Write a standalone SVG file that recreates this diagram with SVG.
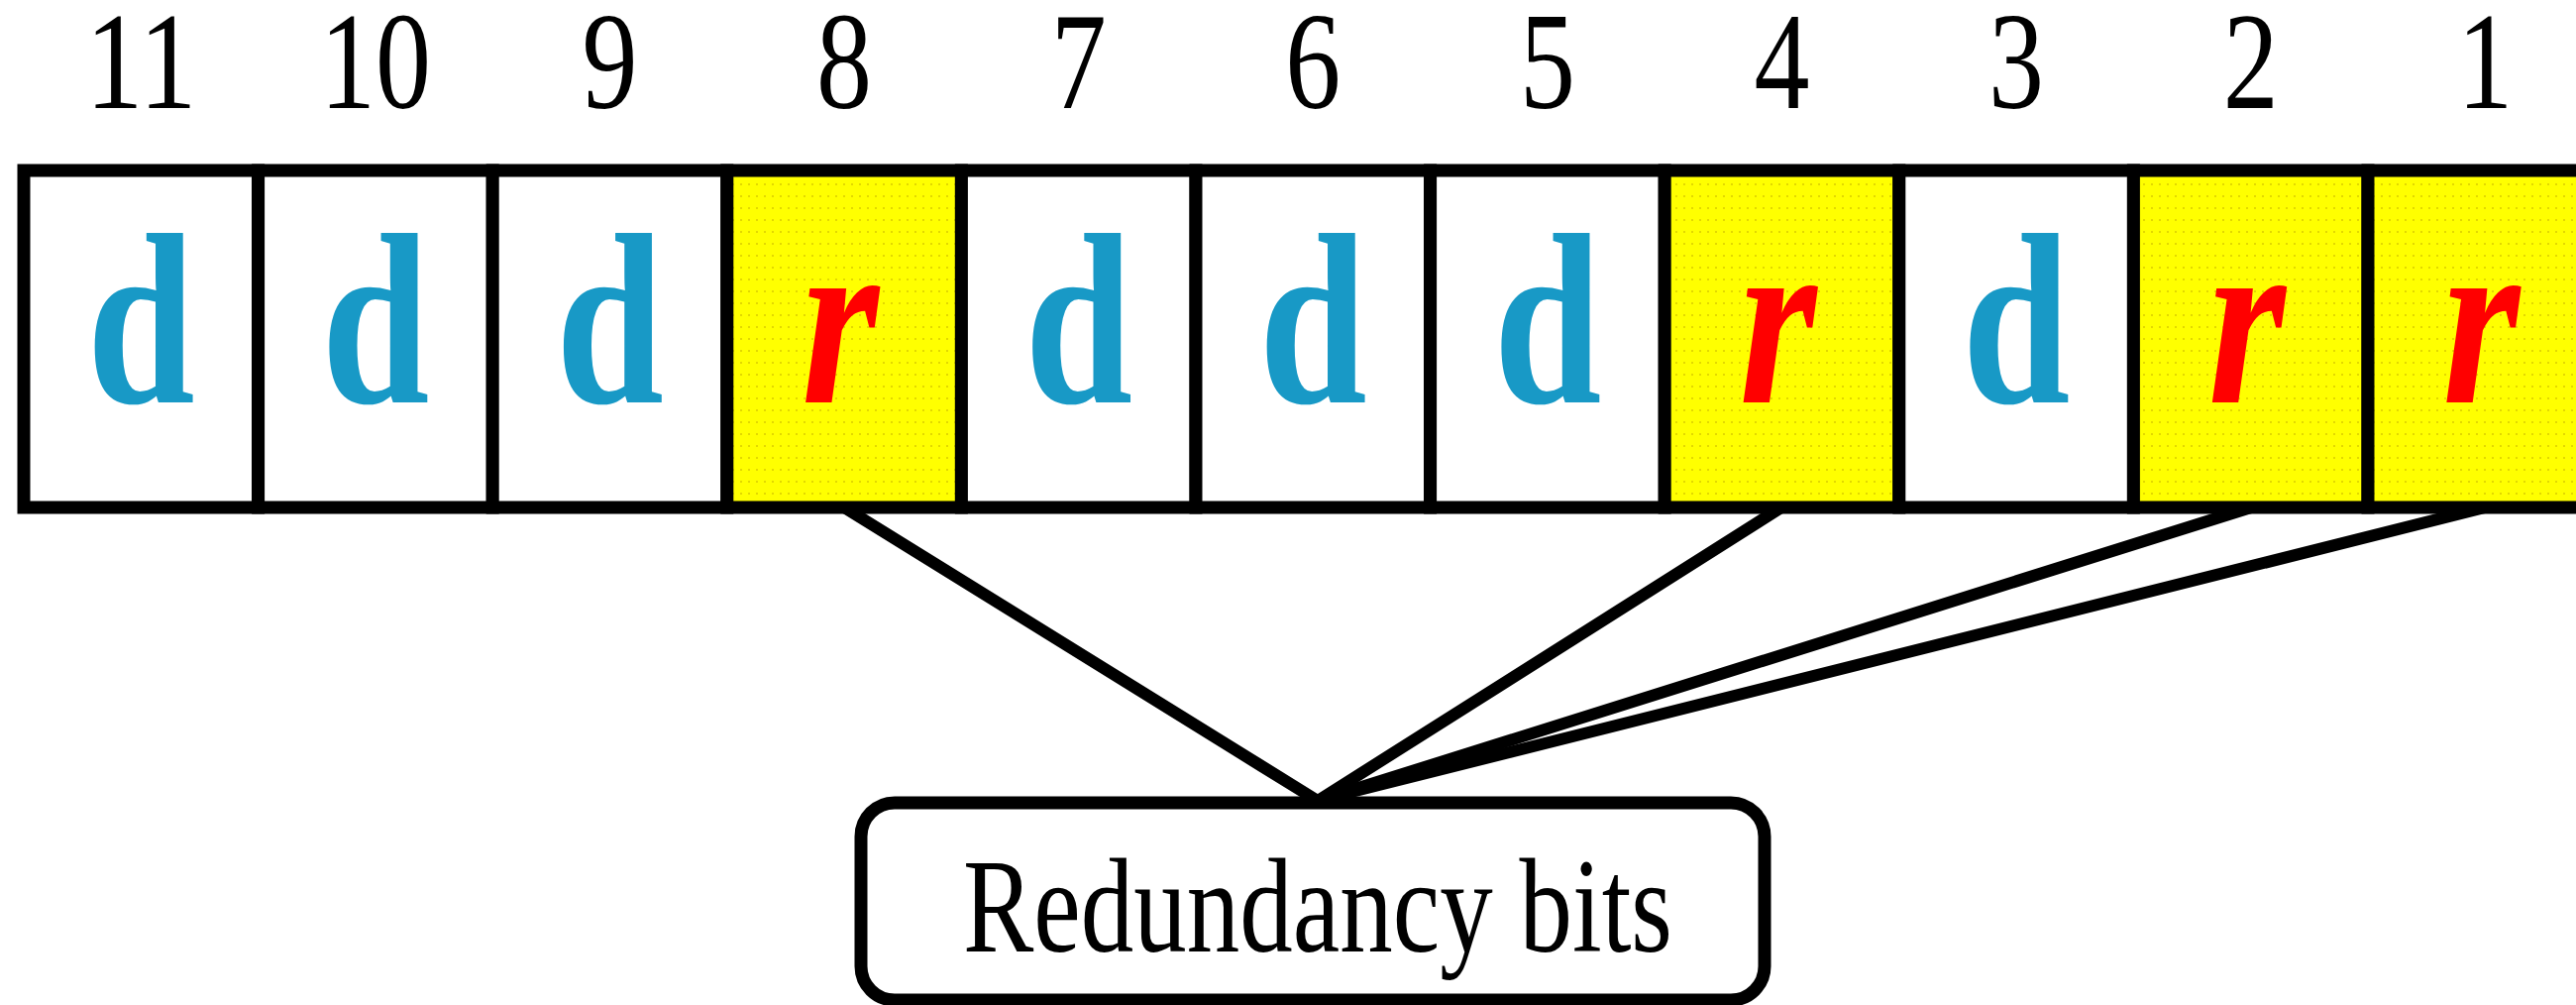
<svg xmlns="http://www.w3.org/2000/svg" width="2600" height="1014" viewBox="0 0 2600 1014">
  <defs>
    <pattern id="dots" width="8" height="12" patternUnits="userSpaceOnUse">
      <rect width="8" height="12" fill="#ffff00"/>
      <rect x="3" y="5" width="2" height="2" fill="#e2d800"/>
    </pattern>
  </defs>
  <style>
    .cell { stroke: #000; stroke-width: 13; }
    .data { fill: #ffffff; }
    .red { fill: url(#dots); }
    .num { font-size: 140px; fill: #000; text-anchor: middle; }
    .d { font-size: 245px; font-weight: bold; fill: #1899c6; text-anchor: middle; }
    .r { font-size: 250px; font-weight: bold; font-style: italic; fill: #ff0000; text-anchor: middle; }
    .conn { stroke: #000; stroke-width: 12; fill: none; stroke-linecap: round; }
    .box { fill: #fff; stroke: #000; stroke-width: 13; }
    .label { font-size: 136px; fill: #000; text-anchor: middle; }
  </style>

  <g font-family="'Liberation Serif', 'Times New Roman', Times, serif">
  <g id="cell-11">
    <rect class="cell data" x="24" y="172" width="236.6" height="340"/>
    <text class="num" x="142.3" y="109" textLength="112" lengthAdjust="spacingAndGlyphs">11</text>
    <text class="d" x="142.3" y="406" textLength="109" lengthAdjust="spacingAndGlyphs">d</text>
  </g>
  <g id="cell-10">
    <rect class="cell data" x="260.6" y="172" width="236.6" height="340"/>
    <text class="num" x="378.9" y="109" textLength="112" lengthAdjust="spacingAndGlyphs">10</text>
    <text class="d" x="378.9" y="406" textLength="109" lengthAdjust="spacingAndGlyphs">d</text>
  </g>
  <g id="cell-9">
    <rect class="cell data" x="497.2" y="172" width="236.6" height="340"/>
    <text class="num" x="615.5" y="109" textLength="56" lengthAdjust="spacingAndGlyphs">9</text>
    <text class="d" x="615.5" y="406" textLength="109" lengthAdjust="spacingAndGlyphs">d</text>
  </g>
  <g id="cell-8">
    <rect class="cell red" x="733.8" y="172" width="236.6" height="340"/>
    <text class="num" x="852.1" y="109" textLength="56" lengthAdjust="spacingAndGlyphs">8</text>
    <text class="r" x="848" y="406" textLength="78" lengthAdjust="spacingAndGlyphs">r</text>
  </g>
  <g id="cell-7">
    <rect class="cell data" x="970.4" y="172" width="236.6" height="340"/>
    <text class="num" x="1088.7" y="109" textLength="56" lengthAdjust="spacingAndGlyphs">7</text>
    <text class="d" x="1088.7" y="406" textLength="109" lengthAdjust="spacingAndGlyphs">d</text>
  </g>
  <g id="cell-6">
    <rect class="cell data" x="1207" y="172" width="236.6" height="340"/>
    <text class="num" x="1325.3" y="109" textLength="56" lengthAdjust="spacingAndGlyphs">6</text>
    <text class="d" x="1325.3" y="406" textLength="109" lengthAdjust="spacingAndGlyphs">d</text>
  </g>
  <g id="cell-5">
    <rect class="cell data" x="1443.6" y="172" width="236.6" height="340"/>
    <text class="num" x="1561.9" y="109" textLength="56" lengthAdjust="spacingAndGlyphs">5</text>
    <text class="d" x="1561.9" y="406" textLength="109" lengthAdjust="spacingAndGlyphs">d</text>
  </g>
  <g id="cell-4">
    <rect class="cell red" x="1680.2" y="172" width="236.6" height="340"/>
    <text class="num" x="1798.5" y="109" textLength="56" lengthAdjust="spacingAndGlyphs">4</text>
    <text class="r" x="1794.5" y="406" textLength="78" lengthAdjust="spacingAndGlyphs">r</text>
  </g>
  <g id="cell-3">
    <rect class="cell data" x="1916.8" y="172" width="236.6" height="340"/>
    <text class="num" x="2035.1" y="109" textLength="56" lengthAdjust="spacingAndGlyphs">3</text>
    <text class="d" x="2035.1" y="406" textLength="109" lengthAdjust="spacingAndGlyphs">d</text>
  </g>
  <g id="cell-2">
    <rect class="cell red" x="2153.4" y="172" width="236.6" height="340"/>
    <text class="num" x="2271.7" y="109" textLength="56" lengthAdjust="spacingAndGlyphs">2</text>
    <text class="r" x="2267.7" y="406" textLength="78" lengthAdjust="spacingAndGlyphs">r</text>
  </g>
  <g id="cell-1">
    <rect class="cell red" x="2390" y="172" width="236.6" height="340"/>
    <text class="num" x="2508.3" y="109" textLength="56" lengthAdjust="spacingAndGlyphs">1</text>
    <text class="r" x="2504.3" y="406" textLength="78" lengthAdjust="spacingAndGlyphs">r</text>
  </g>

  <g id="connectors">
    <line class="conn" x1="852" y1="512" x2="1330" y2="808"/>
    <line class="conn" x1="1798" y1="512" x2="1330" y2="808"/>
    <line class="conn" x1="2272" y1="512" x2="1336" y2="806"/>
    <line class="conn" x1="2508" y1="512" x2="1336" y2="806"/>
  </g>

  <g id="redundancy-bits">
    <rect class="box" x="869" y="810" width="912" height="199" rx="34" ry="34"/>
    <text class="label" x="1330" y="960" textLength="716" lengthAdjust="spacingAndGlyphs">Redundancy bits</text>
  </g>
  </g>
</svg>
